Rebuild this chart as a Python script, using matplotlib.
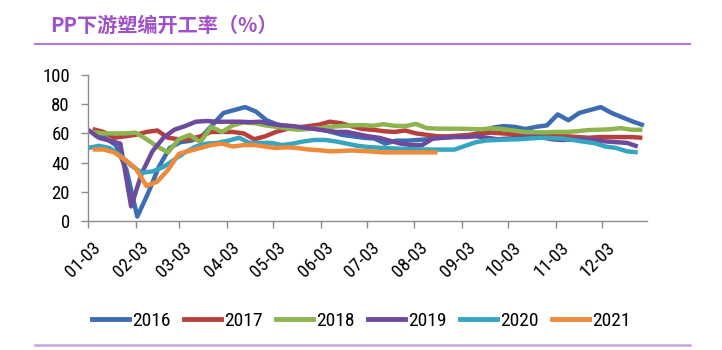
import matplotlib
matplotlib.use("Agg")
import matplotlib.pyplot as plt
from matplotlib.lines import Line2D
from matplotlib import font_manager
from matplotlib.transforms import ScaledTranslation
from datetime import date

# ---------------- data ----------------
years = ["2016", "2017", "2018", "2019", "2020", "2021"]
colors = ["#3C6DB0", "#B8403C", "#8DB44E", "#6E4A9C", "#36A6C0", "#EE8A3A"]
# first observation, days after Jan 3 (weekly observations afterwards)
start_day = [4, 3, 3, 0, 0, 3]

v2016 = [59, 57, 52, 35, 3, 19, 37, 50, 54, 55, 58, 66, 74, 76, 78, 75, 69, 66, 65, 64,
         64, 63, 61, 59, 58, 57, 56.5, 53, 55, 55, 55.5, 56, 57, 57.5, 58, 59, 61, 64, 65, 64.5,
         63, 64.5, 65.5, 73, 69, 74, 76, 78, 74, 71, 68, 65.5]
v2017 = [63, 61, 57, 58, 59, 61, 62, 57, 56, 56, 58, 61, 61, 61, 60, 56, 58, 61, 63, 64,
         65, 66, 68, 67, 65, 63, 62.5, 61.5, 61, 62, 60, 59, 58, 58, 58.5, 59, 60, 60.5, 60, 59.5,
         59, 58.5, 58.5, 58, 58, 57.5, 57, 57.5, 57.5, 57.5, 57.5, 57]
v2018 = [61, 60, 60, 60, 60.5, 56, 51, 47, 56, 59, 54, 64.5, 61, 65.5, 67.5, 67, 65.5, 64.5, 63.5, 62.5,
         63, 63.5, 64.5, 65, 65.5, 65.7, 65.2, 66.3, 65.2, 65, 66.5, 63.6, 63.3, 63.2, 63.2, 63, 62.8, 63.5, 63, 62,
         61, 60.7, 60.7, 61, 61, 61.5, 62.3, 62.5, 62.8, 63.6, 62.5, 62.5]
v2019 = [62.5, 57, 55, 53, 10, 33, 48, 57, 62.5, 65, 68, 68.5, 68, 68, 68, 67.7, 68, 66.5, 65.5, 65,
         64, 63, 62, 61, 61, 59.5, 58, 57, 55, 53, 52, 52, 56.5, 57, 57.5, 57.5, 58, 57, 56, 56.5,
         57, 57.5, 57.5, 56, 55.5, 56, 56, 55.5, 54.5, 54, 53.5, 51]
v2020 = [50, 51.5, 50, 45, 38, 33, 34, 37, 42, 47, 51, 53, 53.5, 55, 57, 53.5, 53.5, 53.5, 52, 53,
         54.5, 55.5, 55.5, 54.5, 53, 51.5, 50.7, 50.2, 49.8, 49.5, 49.2, 49, 48.9, 48.9, 48.9, 51.5, 54, 55.2, 55.5, 55.8,
         56, 56.5, 57, 56.8, 56.5, 55.5, 54.3, 53.3, 51, 50, 47.7, 47]
v2021 = [49, 49, 47, 42, 36, 24, 27, 35, 46, 48, 50, 52, 53, 51, 52, 52, 51, 50, 50.5, 50,
         49, 48.5, 47.7, 48, 48.3, 48, 47.5, 47, 47, 47, 47, 47, 47]
series = [v2016, v2017, v2018, v2019, v2020, v2021]

tick_labels = ["01-03", "02-03", "03-03", "04-03", "05-03", "06-03",
               "07-03", "08-03", "09-03", "10-03", "11-03", "12-03"]
y_ticks = [0, 20, 40, 60, 80, 100]

title = "PP下游塑编开工率（%）"

# ---------------- fonts ----------------
available = {f.name for f in font_manager.fontManager.ttflist}
num_font = [f for f in ["Liberation Sans Narrow", "Roboto Condensed", "Lato", "DejaVu Sans"]
            if f in available] or ["DejaVu Sans"]

# ---------------- figure ----------------
fig = plt.figure(figsize=(7.22, 3.5), dpi=100)
ax = fig.add_axes([88 / 722, 1 - 221 / 350, (647 - 88) / 722, 146 / 350])

for vals, start, col, yr in zip(series, start_day, colors, years):
    xs = [start + 7 * k for k in range(len(vals))]
    ax.plot(xs, vals, color=col, lw=3.2, solid_joinstyle="round", solid_capstyle="butt", label=yr)

ref = date(2021, 1, 3)
tick_pos = [(date(2021, int(t[:2]), int(t[3:])) - ref).days for t in tick_labels]
ax.set_xticks(tick_pos)
ax.set_xticklabels(tick_labels, rotation=45, ha="right", va="top", rotation_mode="anchor",
                   family=num_font, fontsize=13.5)
ax.set_xlim(0, 363)
ax.set_ylim(0, 100)
ax.set_yticks(y_ticks)
ax.set_yticklabels([str(v) for v in y_ticks], family=num_font, fontsize=13.5)

for s in ["top", "right"]:
    ax.spines[s].set_visible(False)
for s in ["left", "bottom"]:
    ax.spines[s].set_color("#8C8C8C")
    ax.spines[s].set_linewidth(1.0)
ax.tick_params(axis="both", direction="out", length=5, color="#8C8C8C", width=1.0)
ax.tick_params(axis="y", pad=8)
ax.tick_params(axis="x", pad=8)
shift = ScaledTranslation(4 / 100, 0, fig.dpi_scale_trans)
for lab in ax.get_xticklabels():
    lab.set_transform(lab.get_transform() + shift)

handles = [Line2D([0], [0], color=c, lw=3.5) for c in colors]
fig.legend(handles, years, loc="center", bbox_to_anchor=(0.5, 1 - 321 / 350), ncol=6,
           frameon=False, handlelength=1.9, handletextpad=0.15, columnspacing=0.7,
           prop={"family": num_font, "size": 14})

# title and decorative lines
fig.text(50 / 722, 1 - 25 / 350, title, color="#A050C8", fontsize=14.5, fontweight="bold",
         family=["Noto Sans CJK SC", "DejaVu Sans"], ha="left", va="center")
fig.add_artist(Line2D([35 / 722, 690 / 722], [1 - 44 / 350] * 2, color="#B67AD2", lw=1.5,
                      transform=fig.transFigure))
fig.add_artist(Line2D([35 / 722, 690 / 722], [1 - 345 / 350] * 2, color="#C9A2DC", lw=1.8,
                      transform=fig.transFigure))

fig.savefig("out.png", dpi=100)
